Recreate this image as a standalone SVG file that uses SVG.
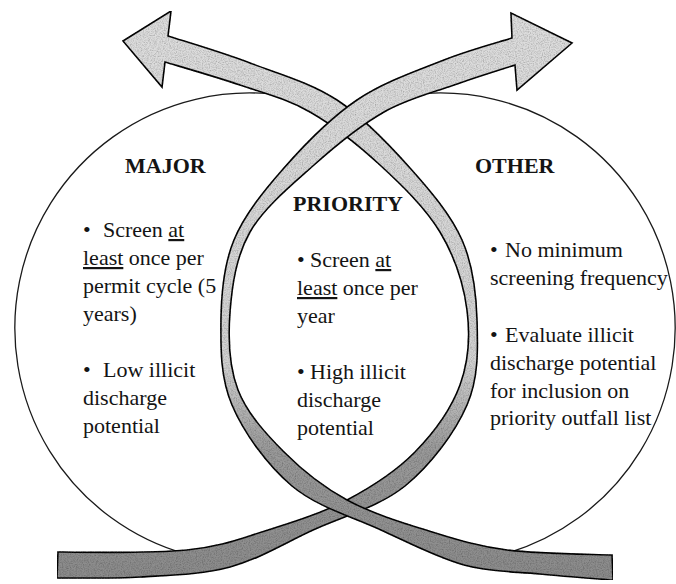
<svg xmlns="http://www.w3.org/2000/svg" width="676" height="584" viewBox="0 0 676 584">
  <style>
    .ring { fill: none; stroke: #1a1a1a; stroke-width: 1.3; }
    .band { fill: url(#bandShade); stroke: #111; stroke-width: 1.6; stroke-linejoin: miter; }
    .label { font-family: "Liberation Serif", "Times New Roman", serif; font-size: 22px; fill: #141414; }
    .title { font-weight: bold; }
    .ul { text-decoration: underline; }
  </style>
  <defs>
    <!-- ribbon shading: pale near the heads, darker toward the tails -->
    <linearGradient id="bandShade" gradientUnits="userSpaceOnUse" x1="0" y1="0" x2="0" y2="584">
      <stop offset="0" stop-color="#dedede"/>
      <stop offset="0.62" stop-color="#d2d2d2"/>
      <stop offset="0.77" stop-color="#9a9a9a"/>
      <stop offset="1" stop-color="#8a8a8a"/>
    </linearGradient>
    <!-- fine speckle over the ribbon fill -->
    <filter id="grain" x="0" y="0" width="100%" height="100%">
      <feTurbulence type="fractalNoise" baseFrequency="0.85" numOctaves="2" seed="4" result="noise"/>
      <feColorMatrix in="noise" type="matrix" values="0 0 0 0 0  0 0 0 0 0  0 0 0 0 0  0 0 0 -0.9 0.55" result="speck"/>
      <feComposite in="speck" in2="SourceGraphic" operator="in" result="speckIn"/>
      <feMerge>
        <feMergeNode in="SourceGraphic"/>
        <feMergeNode in="speckIn"/>
      </feMerge>
    </filter>
  </defs>

  <rect width="676" height="584" fill="#ffffff"/>

  <!-- outer circles (only the outside arcs are visible) -->
  <g id="major">
    <path class="ring" d="M280,94.9 A235,235 0 0 0 187,554.4"/>
  </g>
  <g id="other">
    <path class="ring" d="M410,94.9 A235,235 0 0 1 503,554.4"/>
  </g>

  <!-- the two crossing ribbon arrows that form the middle circle -->
  <g id="connectors" filter="url(#grain)">
    <path id="arrow-left" class="band" d="M168,36
      C181.7,40.5 221.8,52.3 250,63
      C278.2,73.7 310.3,82.5 337,100
      C363.7,117.5 389.2,144.7 410,168
      C430.8,191.3 450.8,214.7 462,240
      C473.2,265.3 476.2,292.5 477,320
      C477.8,347.5 479,377.3 467,405
      C455,432.7 430.7,465.2 405,486
      C379.3,506.8 342.2,516.5 313,530
      C283.8,543.5 258.8,559.2 230,567
      C201.2,574.8 168.8,575.2 140,577
      C111.2,578.8 70.8,577.8 57,578
      L58,552
      C79.5,552.3 152.5,553.5 187,550
      C221.5,546.5 238.3,539.3 265,531
      C291.7,522.7 322,513.2 347,500
      C372,486.8 396.2,471.2 415,452
      C433.8,432.8 451.3,408.7 460,385
      C468.7,361.3 470.3,335.5 467,310
      C463.7,284.5 454.5,256.2 440,232
      C425.5,207.8 401.7,185 380,165
      C358.3,145 333.3,125.3 310,112
      C286.7,98.7 264.2,93.3 240,85
      C215.8,76.7 177.5,65.8 165,62
      L162,87 L123,41 L171,11 Z"/>
    <path id="arrow-right" class="band" d="M512,38
      C500.7,41.7 469.8,49.7 444,60
      C418.2,70.3 383.7,82 357,100
      C330.3,118 304.5,144.7 284,168
      C263.5,191.3 244.5,214.7 234,240
      C223.5,265.3 221.3,292.5 221,320
      C220.7,347.5 220.2,377.3 232,405
      C243.8,432.7 267.2,465.2 292,486
      C316.8,506.8 352.3,516.8 381,530
      C409.7,543.2 437.5,557.7 464,565
      C490.5,572.3 515.2,571.5 540,574
      C564.8,576.5 600.8,579 613,580
      L612,555
      C594.5,554.2 537.5,554 507,550
      C476.5,546 455.7,539.3 429,531
      C402.3,522.7 371.2,513.2 347,500
      C322.8,486.8 302.2,470.3 284,452
      C265.8,433.7 247,413.3 238,390
      C229,366.7 228,338.3 230,312
      C232,285.7 236,256.5 250,232
      C264,207.5 291.7,185 314,165
      C336.3,145 360.7,125.3 384,112
      C407.3,98.7 432.2,92.8 454,85
      C475.8,77.2 504.8,68.3 515,65
      L517,90 L572,43 L511,13 Z"/>
  </g>

  <!-- MAJOR -->
  <g id="major-text" class="label">
    <text class="title" x="125" y="173">MAJOR</text>
    <text x="83" y="237">•<tspan x="103">Screen </tspan><tspan class="ul">at</tspan></text>
    <text x="83" y="265"><tspan class="ul">least</tspan> once per</text>
    <text x="83" y="293">permit cycle (5</text>
    <text x="83" y="321">years)</text>
    <text x="83" y="377">•<tspan x="103">Low illicit</tspan></text>
    <text x="83" y="405">discharge</text>
    <text x="83" y="433">potential</text>
  </g>

  <!-- PRIORITY -->
  <g id="priority" class="label">
    <text class="title" x="293" y="211">PRIORITY</text>
    <text x="297" y="267">•<tspan x="310">Screen </tspan><tspan class="ul">at</tspan></text>
    <text x="297" y="295"><tspan class="ul">least</tspan> once per</text>
    <text x="297" y="323">year</text>
    <text x="297" y="379">•<tspan x="310">High illicit</tspan></text>
    <text x="297" y="407">discharge</text>
    <text x="297" y="435">potential</text>
  </g>

  <!-- OTHER -->
  <g id="other-text" class="label">
    <text class="title" x="475" y="173">OTHER</text>
    <text x="490" y="257">•<tspan x="505">No minimum</tspan></text>
    <text x="490" y="285">screening frequency</text>
    <text x="490" y="342">•<tspan x="505">Evaluate illicit</tspan></text>
    <text x="490" y="370">discharge potential</text>
    <text x="490" y="398">for inclusion on</text>
    <text x="490" y="425">priority outfall list</text>
  </g>
</svg>
